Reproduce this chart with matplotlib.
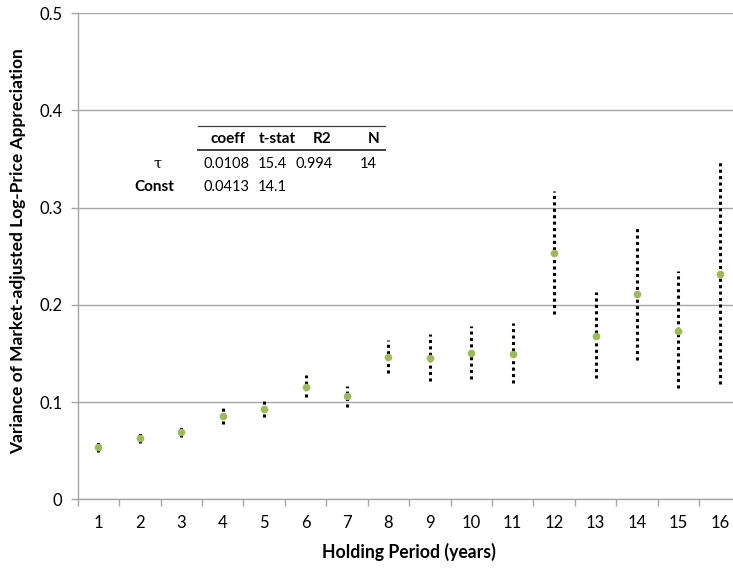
import numpy as np
import matplotlib
matplotlib.use("Agg")
import matplotlib.pyplot as plt
from matplotlib.lines import Line2D

plt.rcParams['font.family'] = ['Lato', 'DejaVu Sans']

# data
periods = list(range(1, 17))
variance = [0.0538, 0.063, 0.069, 0.0858, 0.0924, 0.1155, 0.1058, 0.146,
            0.1455, 0.151, 0.1493, 0.2534, 0.1678, 0.211, 0.1733, 0.2323]
upper = [0.059, 0.069, 0.0755, 0.0938, 0.1013, 0.128, 0.117, 0.1644,
         0.170, 0.1784, 0.181, 0.3169, 0.2134, 0.2795, 0.235, 0.348]
lower = [0.0486, 0.0576, 0.0638, 0.0776, 0.0845, 0.105, 0.0948, 0.130,
         0.1216, 0.1236, 0.1198, 0.1911, 0.125, 0.1428, 0.1144, 0.1185]

# regression table
tbl_header = ['coeff', 't-stat', 'R2', 'N']
tbl_rows = ['\u03c4', 'Const']
tbl_cells = [['0.0108', '15.4', '0.994', '14'],
             ['0.0413', '14.1', '', '']]

W, H = 733, 569
fig = plt.figure(figsize=(W / 100, H / 100), dpi=100)
# the plot area runs a little past the right edge, like the original crop
left, right, top, bottom = 77.7, 740.5, 13.3, 499.3
ax = fig.add_axes([left / W, 1 - bottom / H, (right - left) / W, (bottom - top) / H])

grid_c = '#a6a6a6'
ax.set_xlim(0.5, 16.5)
ax.set_ylim(0, 0.5)
ax.set_yticks(np.arange(0, 0.51, 0.1))
ax.set_yticklabels(['0', '0.1', '0.2', '0.3', '0.4', '0.5'])
ax.yaxis.grid(True, color=grid_c, linewidth=1.0)
ax.set_axisbelow(True)

# category ticks at boundaries, labels at centres
ax.set_xticks(np.arange(0.5, 16.6, 1.0))
ax.set_xticklabels([])
ax.set_xticks(periods, minor=True)
ax.set_xticklabels([str(p) for p in periods], minor=True)
ax.tick_params(axis='x', which='minor', length=0, labelsize=12, pad=11)
ax.tick_params(axis='x', which='major', length=5, color=grid_c, width=1)
ax.tick_params(axis='y', length=5, color=grid_c, width=1, labelsize=12, pad=6)

for s in ['top', 'right']:
    ax.spines[s].set_visible(False)
for s in ['left', 'bottom']:
    ax.spines[s].set_color(grid_c)
    ax.spines[s].set_linewidth(1.0)

ax.vlines(periods, lower, upper, colors='black', linewidth=2.2,
          linestyles=(0, (1, 1.1)), zorder=2)
ax.plot(periods, variance, 'o', color='#9bbb59', markersize=5.5,
        markeredgewidth=0, zorder=3)

fig.text(18 / W, 1 - 251.5 / H, 'Variance of Market-adjusted Log-Price Appreciation',
         rotation=90, ha='center', va='center', fontsize=12.5, fontweight='bold')
fig.text(409 / W, 1 - 552 / H, 'Holding Period (years)', ha='center', va='center',
         fontsize=12.7, fontweight='bold')

# regression table
def px(x, y):
    return x / W, 1 - y / H

fig.add_artist(Line2D([198 / W, 385 / W], [1 - 125.7 / H] * 2, color='#404040', linewidth=0.9))
fig.add_artist(Line2D([198 / W, 385 / W], [1 - 150 / H] * 2, color='#404040', linewidth=1.4))
hdr_x = [228, 277, 322, 374]
for x, t in zip(hdr_x, tbl_header):
    fig.text(*px(x, 139), t, ha='center', va='center', fontsize=11, fontweight='bold')
row_y = [164, 187]
row_x = [157, 154]
col_x = [203, 258, 295, 360]
for r, (name, cells) in enumerate(zip(tbl_rows, tbl_cells)):
    if r == 0:
        fig.text(*px(row_x[r], row_y[r]), name, ha='center', va='center',
                 fontsize=10.5, family=['DejaVu Serif'])
    else:
        fig.text(*px(row_x[r], row_y[r]), name, ha='center', va='center',
                 fontsize=11, fontweight='bold')
    for x, c in zip(col_x, cells):
        fig.text(*px(x, row_y[r]), c, ha='left', va='center', fontsize=10.5)

fig.savefig('out.png', dpi=100)
